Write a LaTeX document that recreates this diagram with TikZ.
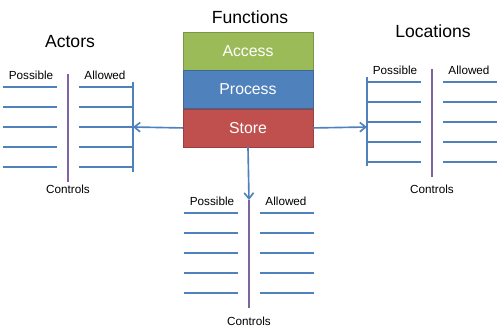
\documentclass[tikz,border=0pt]{standalone}
\usepackage{fontspec}
\setmainfont{Liberation Sans}
\usepackage{tikz}
\usetikzlibrary{arrows.meta,calc,positioning}
\definecolor{fgreen}{RGB}{155,187,89}
\definecolor{fblue}{RGB}{79,129,189}
\definecolor{fred}{RGB}{192,80,77}
\definecolor{lblue}{RGB}{79,129,189}
\definecolor{lpurple}{RGB}{128,100,162}

\begin{document}
\begin{tikzpicture}[x=0.03cm,y=-0.03cm,font=\fontsize{10}{12}\selectfont,
  fbox/.style={minimum width=3.9cm,minimum height=1.14cm,inner sep=0pt,text=white,font=\fontsize{13.5}{15}\selectfont},
  title/.style={font=\fontsize{15}{18}\selectfont},
  rule/.style={lblue,line width=1.4pt},
  ctrl/.style={lpurple,line width=1.2pt},
  link/.style={lblue,line width=1.4pt,-{Straight Barb[length=5pt,width=8pt]}}]
  \useasboundingbox (0,0) rectangle (500,331);
  % functions
  \node[title] (fun) at (250,17) {Functions};
  \node[fbox,fill=fgreen,draw=fgreen!80!black] (acc) at (248,51) {Access};
  \node[fbox,fill=fblue,draw=fblue!80!black,below=0pt of acc] (proc) {Process};
  \node[fbox,fill=fred,draw=fred!80!black,below=0pt of proc] (sto) {Store};
  \node[title] (act) at (70,42) {Actors};
  \node[title] (loc) at (433,31) {Locations};
  % possible / controls / allowed
  \foreach \g/\cx/\cy/\ct in {A/68/87/189, L/432/82/189, F/249/213/321}{
    \foreach \k in {0,...,4}{
      \draw[rule] (\cx-65,\cy+20*\k)--(\cx-11,\cy+20*\k);
      \draw[rule] (\cx+11,\cy+20*\k)--(\cx+65,\cy+20*\k);
    }
    \coordinate (top\g) at (\cx,\cy-13);
    \coordinate (bot\g) at (\cx,\cy+95);
    \draw[ctrl] (top\g)--(bot\g);
    \node (pos\g) at (\cx-37,\cy-12) {Possible};
    \node (alw\g) at (\cx+37,\cy-12) {Allowed};
    \node (con\g) at (\cx,\ct) {Controls};
  }
  % bars and arrows
  \coordinate (barA) at (133,127); \coordinate (barL) at (367,127);
  \draw[rule] (133,82)--(133,172);
  \draw[rule] (367,77)--(367,166);
  \draw[link] (sto.west)--(barA);
  \draw[link] (sto.east)--(barL);
  \draw[link] (sto.south)--(topF);
\end{tikzpicture}
\end{document}
